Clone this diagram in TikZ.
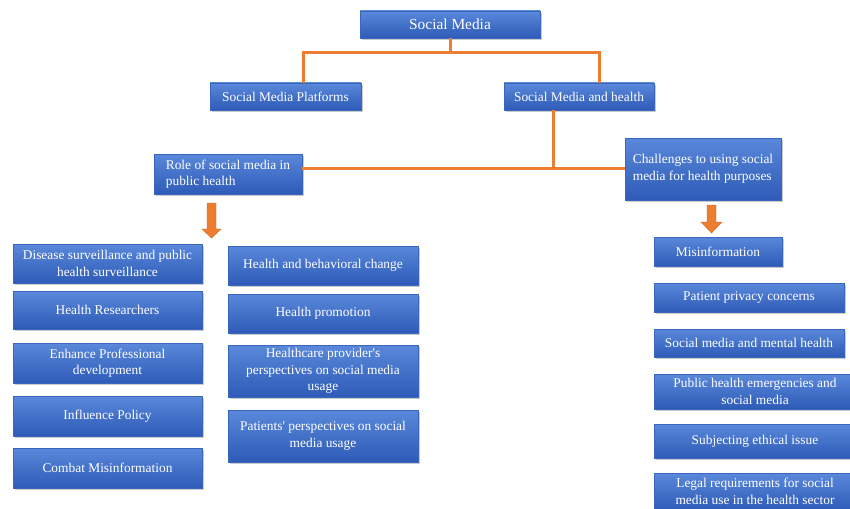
\documentclass[tikz,border=0pt]{standalone}
\usepackage{fontspec}
\setmainfont{Liberation Serif}
\usetikzlibrary{shadows}
\definecolor{boxtop}{HTML}{5A88DA}
\definecolor{boxbot}{HTML}{2D5BB7}
\definecolor{boxedge}{HTML}{3A66BE}
\definecolor{conn}{HTML}{ED7D31}
\definecolor{arrowedge}{HTML}{C9651F}
\newcommand\bx[7][]{\node[box,#1, minimum width={(#5-#3)*1pt}, minimum height={(#6-#4)*1pt}] (#2) at ({(#3+#5)/2},{(#4+#6)/2}) {#7};}
\begin{document}
\begin{tikzpicture}[x=1pt,y=-1pt,
  box/.style={draw=boxedge, line width=0.5pt, top color=boxtop, bottom color=boxbot,
    inner sep=0pt, text=white, font=\fontsize{13.4}{16.5}\selectfont, align=center,
    drop shadow={opacity=0.35, shadow xshift=1.5pt, shadow yshift=-1.8pt, fill=black!60}},
  link/.style={draw=conn, line width=3pt},
  blockarrow/.style={fill=conn, draw=arrowedge, line width=0.4pt}]
\useasboundingbox (0,0) rectangle (850,508);
\clip (0,0) rectangle (850,508);

% top levels
\bx[font=\fontsize{15.4}{18}\selectfont]{top}{360}{11}{540}{38}{Social Media}
\bx{plat}{210}{83}{361}{110}{Social Media Platforms}
\bx{smh}{504}{83}{654}{110}{Social Media and health}
\bx[align=left]{role}{154}{154}{302}{194}{Role of social media in\\public health}
\bx[align=left]{chal}{625}{138}{781}{200}{Challenges to using social\\media for health purposes}

% left column
\bx{l1}{13}{244}{202}{283}{Disease surveillance and public\\health surveillance}
\bx{l2}{13}{291}{202}{329}{Health Researchers}
\bx{l3}{13}{343}{202}{383}{Enhance Professional\\development}
\bx{l4}{13}{396}{202}{436}{Influence Policy}
\bx{l5}{13}{448}{202}{488}{Combat Misinformation}

% middle column
\bx{m1}{228}{246}{418}{285}{Health and behavioral change}
\bx{m2}{228}{294}{418}{333}{Health promotion}
\bx{m3}{228}{345}{418}{397}{Healthcare provider\textquotesingle s\\perspectives on social media\\usage}
\bx{m4}{228}{410}{418}{462}{Patients\textquotesingle\ perspectives on social\\media usage}

% right column
\bx{r1}{654}{237}{782}{266}{Misinformation}
\bx{r2}{654}{283}{844}{312}{Patient privacy concerns}
\bx{r3}{654}{329}{844}{357}{Social media and mental health}
\bx{r4}{654}{374}{856}{409}{Public health emergencies and\\social media}
\bx{r5}{654}{424}{856}{458}{Subjecting ethical issue}
\bx{r6}{654}{473}{856}{510}{Legal requirements for social\\media use in the health sector}

% connectors
\coordinate (a1) at (303,53);
\coordinate (a2) at (599,53);
\coordinate (b) at (553,168);
\draw[link] (top.south) -- (top.south |- a1);
\draw[link, line join=miter] (plat.north -| a1) -- (a1) -- (a2) -- (smh.north -| a2);
\draw[link] (smh.south -| b) -- (b);
\draw[link] (role.east |- b) -- (chal.west |- b);

% block arrows
\draw[blockarrow] (207,203) -- (216,203) -- (216,229) -- (221,229) -- (211.5,238) -- (202,229) -- (207,229) -- cycle;
\draw[blockarrow] (707,205) -- (716,205) -- (716,222) -- (722,222) -- (711.5,233) -- (701,222) -- (707,222) -- cycle;
\end{tikzpicture}
\end{document}
